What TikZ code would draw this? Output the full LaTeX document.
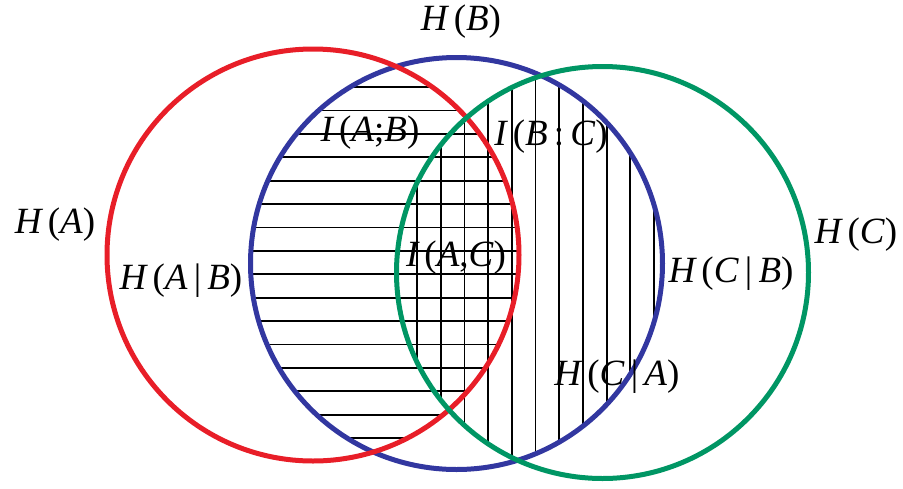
\documentclass[tikz,border=0pt]{standalone}
\usepackage{fontspec}
\setmainfont{Liberation Serif}
\definecolor{cA}{RGB}{232,30,40}
\definecolor{cB}{RGB}{50,55,160}
\definecolor{cC}{RGB}{0,150,100}
\newcommand{\iv}[1]{\textit{#1}}
\begin{document}
\begin{tikzpicture}[x=1pt,y=-1pt,
  lab/.style={inner sep=0pt,font=\fontsize{37}{42}\selectfont},
  ring/.style={line width=5pt},
  hatch/.style={line width=1.8pt,black}]
\useasboundingbox (0,0) rectangle (903,488);
\coordinate (ca) at (313,255);
\coordinate (cb) at (456.5,263.5);
\coordinate (cc) at (602.5,272.5);
% horizontal hatching in A and B
\begin{scope}
  \clip (ca) circle (206);
  \clip (cb) circle (206);
  \foreach \k in {0,...,15} {
    \draw[hatch] (100,87+23.4*\k) -- (700,87+23.4*\k);
  }
\end{scope}
% vertical hatching in B and C
\begin{scope}
  \clip (cb) circle (206);
  \clip (cc) circle (206);
  \foreach \k in {0,...,10} {
    \draw[hatch] (417+23.7*\k,0) -- (417+23.7*\k,488);
  }
\end{scope}
\draw[ring,cB] (cb) circle (206);
\draw[ring,cA] (ca) circle (206);
\draw[ring,cC] (cc) circle (206);
\node[lab] (hb) at (461,22) {\iv{H\,}(\iv{B})};
\node[lab] (ha) at (55,225) {\iv{H\,}(\iv{A})};
\node[lab] (hab) at (181,281) {\iv{H\,}(\iv{A}\,|\,\iv{B})};
\node[lab] (iab) at (370,133) {\iv{I\,}(\iv{A};\iv{B})};
\node[lab] (ibc) at (551,137) {\iv{I\,}(\iv{B\,}:\,\iv{C})};
\node[lab] (iac) at (456,258) {\iv{I\,}(\iv{A},\iv{C})};
\node[lab] (hcb) at (731,274) {\iv{H\,}(\iv{C}\,|\,\iv{B})};
\node[lab] (hc) at (856,235) {\iv{H\,}(\iv{C})};
\node[lab] (hca) at (617,377) {\iv{H\,}(\iv{C}\,|\,\iv{A})};
\end{tikzpicture}
\end{document}
